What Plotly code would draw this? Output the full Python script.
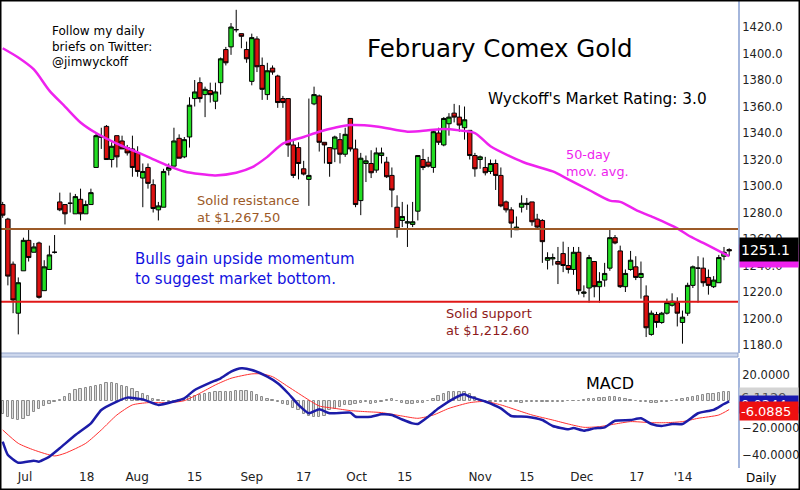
import plotly.graph_objects as go

W, H = 800, 490

# ---- price data (daily candles, index 0 = first bar) ----
opens = [1286,1275,1241,1204,1236,1259,1250,1257,1221,1237,1250,1288,1286,1287,1279,1290,1279,1286,
         1314,1337,1345,1320,1338,1334,1329,1328,1325,1306,1314,1301,1282,1284,1312,1315,1336,1322,
         1337,1366,1378,1369,1372,1364,1378,1403,1405,1418,1415,1403,1379,1411,1391,1369,1389,1383,
         1366,1366,1331,1329,1313,1305,1362,1368,1333,1329,1328,1335,1324,1351,1328,1289,1317,1317,
         1312,1323,1318,1308,1284,1274,1272,1271,1281,1320,1318,1314,1340,1331,1347,1355,1352,1344,
         1342,1323,1320,1314,1311,1317,1308,1288,1282,1267,1284,1286,1288,1275,1274,1244,1245,1243,
         1249,1240,1237,1250,1219,1223,1243,1224,1229,1238,1261,1251,1224,1237,1239,1231,1217,1188,
         1203,1197,1204,1210,1212,1197,1204,1225,1238,1238,1231,1224,1227,1247,1252]
highs = [1288,1276,1243,1231,1261,1267,1257,1258,1244,1255,1263,1295,1286,1295,1294,1298,1289,1298,
         1340,1344,1346,1333,1338,1338,1331,1338,1330,1317,1317,1305,1288,1313,1317,1344,1339,1337,
         1367,1380,1382,1375,1378,1378,1397,1405,1423,1433,1415,1409,1415,1413,1397,1393,1391,1384,
         1368,1366,1335,1333,1319,1366,1375,1369,1333,1329,1338,1340,1344,1351,1335,1325,1323,1327,
         1329,1329,1322,1314,1293,1288,1286,1288,1323,1328,1322,1342,1344,1352,1355,1362,1361,1360,
         1342,1325,1323,1322,1320,1320,1314,1289,1284,1277,1293,1291,1288,1279,1275,1250,1249,1254,
         1258,1254,1254,1254,1225,1248,1243,1235,1242,1268,1263,1255,1237,1251,1247,1243,1225,1206,
         1205,1205,1215,1219,1216,1206,1227,1240,1247,1246,1237,1232,1248,1254,1253]
lows = [1276,1225,1204,1188,1236,1243,1250,1215,1221,1237,1249,1281,1271,1280,1279,1274,1279,1286,
        1314,1328,1320,1314,1314,1328,1323,1307,1307,1284,1298,1280,1274,1284,1308,1315,1321,1321,
        1329,1360,1363,1352,1363,1358,1369,1391,1399,1416,1404,1393,1376,1386,1365,1365,1384,1359,
        1359,1322,1306,1305,1308,1285,1361,1326,1317,1307,1318,1317,1322,1326,1284,1278,1303,1306,
        1310,1317,1306,1284,1261,1269,1254,1269,1274,1312,1314,1310,1331,1330,1338,1348,1341,1335,
        1320,1307,1313,1308,1309,1297,1284,1280,1261,1267,1280,1282,1270,1268,1242,1237,1240,1226,
        1235,1234,1233,1218,1216,1212,1216,1212,1224,1236,1256,1223,1220,1236,1229,1215,1186,1187,
        1193,1196,1203,1209,1194,1181,1202,1223,1212,1224,1218,1223,1227,1244,1247]
closes = [1278,1232,1214,1227,1259,1246,1254,1216,1239,1248,1250,1282,1279,1287,1292,1279,1286,1295,
          1338,1337,1320,1330,1322,1328,1325,1314,1311,1311,1302,1283,1285,1311,1314,1334,1321,1335,
          1361,1371,1366,1373,1369,1371,1396,1393,1420,1418,1413,1396,1412,1390,1373,1387,1386,1363,
          1363,1331,1308,1317,1309,1308,1369,1333,1331,1317,1337,1324,1339,1328,1286,1321,1319,1310,
          1325,1325,1307,1297,1268,1277,1273,1273,1323,1314,1315,1341,1333,1351,1352,1352,1346,1350,
          1323,1313,1322,1310,1317,1308,1285,1282,1272,1269,1287,1287,1273,1269,1258,1246,1246,1241,
          1240,1237,1250,1221,1220,1246,1224,1228,1234,1261,1257,1224,1234,1244,1231,1234,1193,1204,
          1197,1204,1212,1213,1204,1201,1225,1239,1238,1227,1225,1229,1246,1250,1251.1]
bars = list(range(len(closes)))

# ---- 50-day moving average (read at sampled bars) ----
ma_bar = [0,3,6,9,12,15,18,22,25,28,32,35,38,41,45,48,51,54,58,61,64,67,72,78,82,85,88,91,94,98,101,
          106,109,113,117,119,122,125,130,132,135,139,140]
ma_val = [1404,1397,1388,1372,1360,1348,1340,1332,1327,1322,1315,1311,1309,1308,1310,1314,1322,1332,
          1337,1341,1344,1346,1345,1341,1342,1343,1342,1340,1330,1322,1317,1311,1305,1297,1289,1288,
          1282,1277,1268,1263,1257,1249,1247]

# ---- MACD ----
macd_bar = [0,1,3,6,7,9,11,14,17,19,22,24,27,30,33,35,37,40,42,44,46,48,51,53,55,57,59,61,63,67,
            68,71,73,75,77,79,80,82,84,87,89,90,93,96,98,101,104,106,109,110,112,114,116,118,121,
            123,125,127,129,131,134,136,137,139,140]
macd_val = [-30.3,-40.4,-46.2,-44.7,-45.4,-41.6,-35.3,-25.3,-16.5,-6.4,-0.1,2.9,1.6,-2.6,0,2.4,8.7,
            14.2,17.5,22.5,25,23.8,18.7,13.7,6.2,-2.6,-8.9,-5.9,-8.9,-8.4,-11.5,-11.5,-9.7,-10.2,
            -13.6,-16.5,-17,-11.5,-5.2,2.4,5.4,3.6,0,-5.2,-11,-11.5,-14,-18.5,-21,-20,-22,-20.3,
            -19.5,-14.5,-14,-12.7,-17,-18.5,-17,-17,-8.9,-7.2,-6.4,-1.9,0.0244]
sig_bar = [0,3,6,10,12,16,19,22,25,28,32,35,38,41,44,48,50,52,55,59,61,64,67,70,73,77,80,83,86,90,
           93,96,99,102,106,109,112,115,118,121,125,128,131,134,138,140]
sig_val = [-21.5,-31.6,-36.6,-41.1,-39.1,-31.6,-21.5,-10.2,-2.6,-0.9,-0.9,0.6,6.2,12.5,17.5,20.8,
           20.8,18.7,11.2,1.1,-3.4,-5.2,-6.9,-7.7,-8.4,-11,-12.7,-10.2,-5.2,-0.9,0,-2.6,-6.4,-10.2,
           -14,-17,-19.5,-19,-17,-15.2,-16,-16,-15.2,-12.7,-10.2,-6.0885]
hist = [-9.3,-11.8,-13.6,-14.3,-13,-10.6,-8,-5.5,-3.5,-1.8,-0.5,
        0.8,3.3,5.8,8.3,9.6,10.3,10.8,11.6,12.6,13.8,13.8,13.3,12,10.8,9.6,7.5,5.8,4,2,0.8,
        0,-0.5,0,0.8,2,
        3.3,4.5,5,5.8,6.3,7,7.5,7.5,7.5,7.8,8,7.8,7,5,3.3,
        1.5,0.8,-0.5,-1.8,-3,-5,-6.8,-9.3,-10.6,-11.8,-11.8,-10.6,-6.8,-5.5,-4.3,-3,-2.5,-1.8,-1.3,-0.5,
        -1.8,-1.3,-0.5,0.8,1.5,0,
        -1.5,-2,-2,-1.5,-1,0.5,
        2,4,5.5,7,7.5,7.5,7,5.5,3.5,
        1,0.3,-0.3,-0.5,-0.5,-0.3,-0.5,-0.5,-0.8,-0.5,-0.3,-0.5,-0.5,-0.3,-0.3,-0.5,-0.3,0.3,0.5,0.5,0.8,
        1.5,2,2.5,2.5,3,3,2.5,2,1,0.3,
        -0.3,-0.5,-0.8,-0.8,-0.5,-0.3,0.3,0.8,1.5,
        2.5,3.5,4.5,5,5.5,6,6.5,7,7.5]

tick_bar = [4.3,16.2,25.9,37,48,58,68.2,77.5,92,101,111.6,122.2,131.1]
tick_text = ["Jul","18","Aug","15","Sep","17","Oct","15","Nov","15","Dec","17","'14"]

resistance = 1267.5
support = 1212.6
last_price = 1251.1
last_ma = 1247.3
macd_hist_last, macd_last, signal_last = "6.1129", "0.0244", "-6.0885"

# ---- geometry ----
PLOT_R = 738 / W
def px(x, y):
    return x / W, 1 - y / H

FONT = "DejaVu Sans"
fig = go.Figure()

fig.add_trace(go.Candlestick(
    x=bars, open=opens, high=highs, low=lows, close=closes,
    increasing=dict(fillcolor="#22dd22", line=dict(color="black", width=1)),
    decreasing=dict(fillcolor="#dd1111", line=dict(color="black", width=1)),
    whiskerwidth=0, xaxis="x", yaxis="y", hoverinfo="skip"))
fig.add_trace(go.Scatter(x=ma_bar, y=ma_val, mode="lines",
                         line=dict(color="#ee22ee", width=2.5, shape="spline", smoothing=0.8),
                         xaxis="x", yaxis="y"))
fig.add_trace(go.Bar(x=bars, y=hist, width=0.45,
                     marker=dict(color="#dcdcdc", line=dict(color="#8c8c8c", width=1)),
                     xaxis="x2", yaxis="y2"))
fig.add_trace(go.Scatter(x=sig_bar, y=sig_val, mode="lines",
                         line=dict(color="#ff3030", width=1, shape="spline", smoothing=0.6),
                         xaxis="x2", yaxis="y2"))
fig.add_trace(go.Scatter(x=macd_bar, y=macd_val, mode="lines",
                         line=dict(color="#1c1ca8", width=2.5, shape="spline", smoothing=0.5),
                         xaxis="x2", yaxis="y2"))

xr = [-0.52, 141.7]
shapes = [
    dict(type="line", xref="paper", yref="y", x0=0, x1=PLOT_R, y0=resistance, y1=resistance,
         line=dict(color="#9c5a28", width=2)),
    dict(type="line", xref="paper", yref="y", x0=0, x1=PLOT_R, y0=support, y1=support,
         line=dict(color="#e01818", width=2)),
    dict(type="rect", xref="paper", yref="paper", x0=0, x1=PLOT_R, y0=1 - 357 / H, y1=1 - 353 / H,
         fillcolor="#cdd7ec", line=dict(color="#94a6cc", width=1)),
    dict(type="rect", xref="paper", yref="paper", x0=0, x1=1, y0=0, y1=1,
         line=dict(color="black", width=3)),
]

def note(x, y, text, size, color, anchor="left"):
    ax, ay = px(x, y)
    return dict(xref="paper", yref="paper", x=ax, y=ay, text=text, showarrow=False,
                xanchor=anchor, yanchor="middle", align="left",
                font=dict(family=FONT, size=size, color=color))

def box(y, text, bg, fg, h, size=13):
    ax, ay = px(739, y)
    return dict(xref="paper", yref="paper", x=ax, y=ay, text=text, showarrow=False,
                xanchor="left", yanchor="middle", align="left", width=56, height=h,
                bgcolor=bg, font=dict(family=FONT, size=size, color=fg), borderpad=1)

annotations = [
    note(50, 46, "Follow my daily<br>briefs on Twitter:<br>@jimwyckoff", 12, "black"),
    note(365, 49, "February Comex Gold", 24.5, "black"),
    note(486, 99, "Wyckoff's Market Rating: 3.0", 15.3, "black"),
    note(564, 163, "50-day<br>mov. avg.", 12.8, "#ee22ee"),
    note(195, 209, "Solid resistance<br>at $1,267.50", 13, "#9c5a28"),
    note(133, 269, "Bulls gain upside momentum<br>to suggest market bottom.", 15, "#1212e0"),
    note(444, 322, "Solid support<br>at $1,212.60", 13, "#8e1a1a"),
    note(584, 383, "MACD", 16, "black"),
    note(744, 478, "Daily", 12, "black"),
    box(256, "1247.3", "#ee22ee", "white", 20, 14),
    box(249, "1251.1", "black", "white", 21, 14),
    box(397, macd_hist_last, "#d4d4d4", "#555555", 16),
    box(404, macd_last, "#1818b0", "white", 15),
    box(411, signal_last, "#ee1010", "white", 16),
]

fig.update_layout(
    width=W, height=H, margin=dict(l=0, r=0, t=0, b=0, autoexpand=False),
    paper_bgcolor="white", plot_bgcolor="white", showlegend=False,
    bargap=0, boxgap=0.15, boxgroupgap=0, shapes=shapes, annotations=annotations,
    xaxis=dict(domain=[0, PLOT_R], range=xr, anchor="y", showticklabels=False, showgrid=False,
               zeroline=False, rangeslider=dict(visible=False), fixedrange=True, automargin=False),
    xaxis2=dict(domain=[0, PLOT_R], range=xr, anchor="y2", showgrid=False, zeroline=False,
                tickmode="array", tickvals=tick_bar, ticktext=tick_text, ticks="", automargin=False,
                tickfont=dict(family=FONT, size=12, color="#222222")),
    yaxis=dict(domain=[1 - 353 / H, 1], range=[1173.96, 1440.4], side="right", anchor="x",
               tickmode="array", tickvals=list(range(1180, 1441, 20)), tickformat=".1f",
               showgrid=False, zeroline=False, showline=True, linecolor="#a4b6dc", linewidth=2,
               ticks="", automargin=False, tickfont=dict(family=FONT, size=11.5, color="#222222")),
    yaxis2=dict(domain=[1 - 468 / H, 1 - 358 / H], range=[-50.2, 32.8], side="right", anchor="x2",
                tickmode="array", tickvals=[20, -20, -40], tickformat=".4f", automargin=False,
                showgrid=False, zeroline=False, showline=True, linecolor="#a4b6dc", linewidth=2,
                ticks="", tickfont=dict(family=FONT, size=11.5, color="#222222")),
)

fig.write_html("out.html", config={"displayModeBar": False},
               post_script="document.body.style.margin='0px';")
